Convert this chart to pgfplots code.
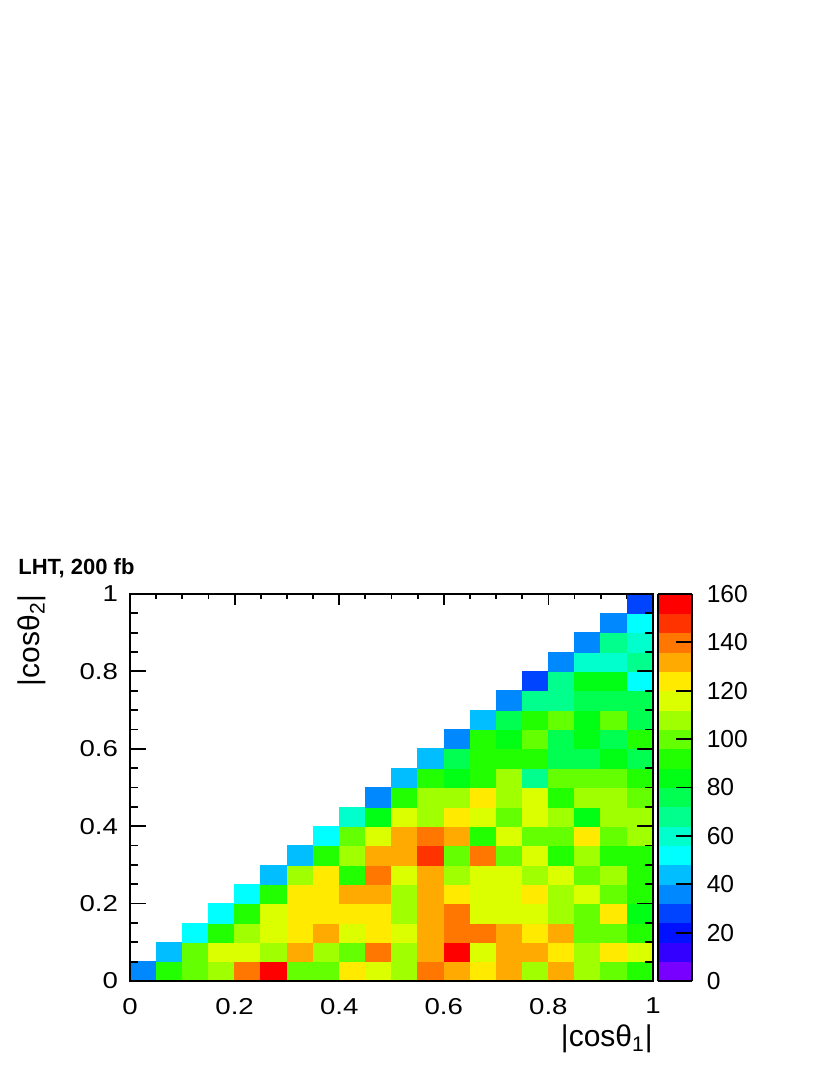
\documentclass[border=0pt]{standalone}
\usepackage{fontspec}
\setmainfont{Liberation Sans}
\newfontfamily\tickfont[FakeStretch=1.2]{Liberation Sans}
\usepackage{pgfplots}
\usepackage{pgfplotstable}
\pgfplotsset{compat=1.18}
\pgfkeys{/pgf/number format/assume math mode=true}

\pgfplotsset{
 colormap={rootpal}{
  rgb255(0pt)=(119,0,255);
  rgb255(8pt)=(51,0,255);
  rgb255(16pt)=(0,17,255);
  rgb255(24pt)=(0,68,255);
  rgb255(32pt)=(0,136,255);
  rgb255(40pt)=(0,190,255);
  rgb255(48pt)=(0,255,255);
  rgb255(56pt)=(0,255,205);
  rgb255(64pt)=(0,255,140);
  rgb255(72pt)=(0,255,80);
  rgb255(80pt)=(0,255,20);
  rgb255(88pt)=(33,255,0);
  rgb255(96pt)=(100,255,0);
  rgb255(104pt)=(160,255,0);
  rgb255(112pt)=(220,255,0);
  rgb255(120pt)=(255,234,0);
  rgb255(128pt)=(255,170,0);
  rgb255(136pt)=(255,119,0);
  rgb255(144pt)=(255,51,0);
  rgb255(152pt)=(255,0,0);
  rgb255(160pt)=(255,0,0)
 }
}

% i = bin of |cos theta_1| (0..19), j = bin of |cos theta_2| (0..19), c = entries
\pgfplotstableread{
i j c
0 0 36
1 0 92
2 0 100
3 0 108
4 0 140
5 0 156
6 0 100
7 0 100
8 0 124
9 0 116
10 0 108
11 0 140
12 0 132
13 0 124
14 0 132
15 0 108
16 0 132
17 0 108
18 0 100
19 0 92
1 1 44
2 1 100
3 1 116
4 1 116
5 1 108
6 1 132
7 1 108
8 1 100
9 1 140
10 1 108
11 1 132
12 1 156
13 1 116
14 1 132
15 1 132
16 1 124
17 1 108
18 1 124
19 1 116
2 2 52
3 2 92
4 2 108
5 2 116
6 2 124
7 2 132
8 2 116
9 2 124
10 2 116
11 2 132
12 2 140
13 2 140
14 2 132
15 2 124
16 2 132
17 2 100
18 2 100
19 2 92
3 3 52
4 3 92
5 3 116
6 3 124
7 3 124
8 3 124
9 3 124
10 3 108
11 3 132
12 3 140
13 3 116
14 3 116
15 3 116
16 3 108
17 3 100
18 3 124
19 3 84
4 4 52
5 4 92
6 4 124
7 4 124
8 4 132
9 4 132
10 4 108
11 4 132
12 4 124
13 4 116
14 4 116
15 4 124
16 4 108
17 4 116
18 4 100
19 4 92
5 5 44
6 5 108
7 5 124
8 5 92
9 5 140
10 5 116
11 5 132
12 5 108
13 5 116
14 5 116
15 5 108
16 5 116
17 5 100
18 5 108
19 5 92
6 6 44
7 6 92
8 6 108
9 6 132
10 6 132
11 6 148
12 6 100
13 6 140
14 6 100
15 6 116
16 6 92
17 6 108
18 6 92
19 6 92
7 7 52
8 7 100
9 7 116
10 7 132
11 7 140
12 7 132
13 7 92
14 7 116
15 7 100
16 7 100
17 7 124
18 7 100
19 7 108
8 8 60
9 8 84
10 8 116
11 8 108
12 8 124
13 8 116
14 8 100
15 8 116
16 8 108
17 8 84
18 8 108
19 8 108
9 9 36
10 9 92
11 9 108
12 9 108
13 9 124
14 9 108
15 9 116
16 9 92
17 9 108
18 9 108
19 9 100
10 10 44
11 10 92
12 10 84
13 10 92
14 10 108
15 10 68
16 10 100
17 10 100
18 10 100
19 10 92
11 11 44
12 11 76
13 11 92
14 11 92
15 11 92
16 11 76
17 11 76
18 11 84
19 11 76
12 12 36
13 12 92
14 12 84
15 12 100
16 12 76
17 12 84
18 12 76
19 12 92
13 13 44
14 13 76
15 13 92
16 13 100
17 13 84
18 13 100
19 13 76
14 14 36
15 14 68
16 14 68
17 14 76
18 14 76
19 14 76
15 15 28
16 15 68
17 15 84
18 15 84
19 15 52
16 16 36
17 16 60
18 16 60
19 16 68
17 17 36
18 17 68
19 17 60
18 18 36
19 18 52
19 19 28
}\histdata

\begin{document}
\begin{tikzpicture}
\path[use as bounding box] (0,0) rectangle (415pt,537.5pt);

\begin{axis}[
  at={(65pt,47pt)}, anchor=south west,
  scale only axis, width=261.5pt, height=193.5pt,
  xmin=0, xmax=1, ymin=0, ymax=1,
  axis on top,
  colormap name=rootpal,
  colormap access=piecewise constant,
  point meta min=0, point meta max=160,
  xtick={0,0.2,0.4,0.6,0.8,1}, minor x tick num=3,
  ytick=\empty,
  tick align=inside,
  major tick length=5.5pt, minor tick length=2.75pt,
  tick style={black, line width=0.9pt},
  axis line style={line width=0.9pt},
  xticklabel style={font=\tickfont\fontsize{11.5}{13}\selectfont, inner sep=0pt, yshift=-8.3pt},
  xlabel={|cosθ\textsubscript{1}|},
  xlabel style={at={(axis description cs:1,-0.170)}, anchor=base east, inner sep=0pt,
    font=\fontsize{15}{17}\selectfont},
  colorbar,
  colorbar style={
    at={(parent axis.north east)}, anchor=north west, xshift=-6pt,
    scale only axis, width=17pt, height=193.5pt,
    xtick=\empty,
    ytick={0,20,40,60,80,100,120,140,160},
    ytick pos=right, yticklabel pos=right, tick align=inside,
    major tick length=8pt,
    tick style={black, line width=0.9pt},
    axis line style={line width=0.9pt},
    yticklabel style={font=\fontsize{12.3}{14}\selectfont, inner sep=0pt, xshift=7.15pt},
  },
]
\addplot[scatter, only marks, scatter src=explicit, mark=square*, mark size=5pt,
  scatter/use mapped color={draw=mapped color, fill=mapped color},
  mark options={xscale=1.3075, yscale=0.9675, line width=0.3pt}]
  table[x expr={\thisrow{i}*0.05+0.025}, y expr={\thisrow{j}*0.05+0.025}, meta=c] {\histdata};
\end{axis}

\begin{axis}[
  at={(65pt,47pt)}, anchor=south west,
  scale only axis, width=261.5pt, height=193.5pt,
  xmin=0, xmax=1, ymin=0, ymax=1,
  xtick=\empty,
  ytick={0,0.2,0.4,0.6,0.8,1}, minor y tick num=3,
  tick align=inside,
  major tick length=8pt, minor tick length=4pt,
  tick style={black, line width=0.9pt},
  axis line style={line width=0.9pt},
  yticklabel style={font=\tickfont\fontsize{11.5}{13}\selectfont, inner sep=0pt, xshift=-5.85pt},
  ylabel={|cosθ\textsubscript{2}|},
  ylabel style={at={(axis description cs:-0.1721,1)}, anchor=base east, inner sep=0pt,
    font=\fontsize{15}{17}\selectfont},
]
\end{axis}

\node[anchor=base west, inner sep=0pt, font=\bfseries\fontsize{11}{13}\selectfont] at (9pt,250pt) {LHT, 200 fb};
\end{tikzpicture}
\end{document}
